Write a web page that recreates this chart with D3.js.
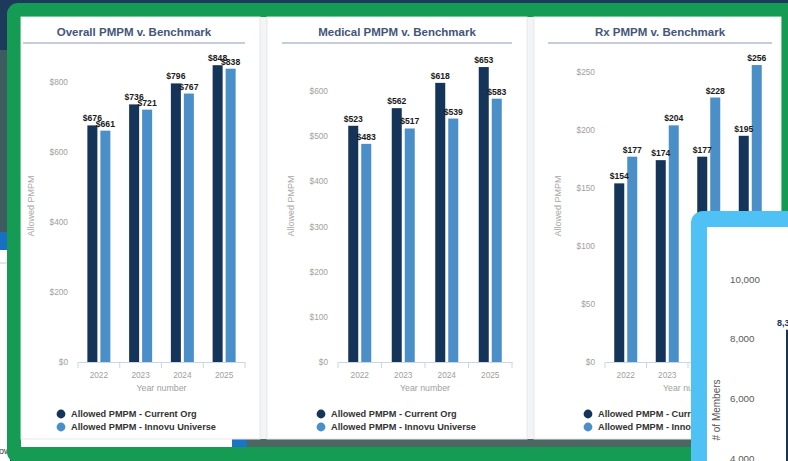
<!DOCTYPE html>
<html>
<head>
<meta charset="utf-8">
<script src="https://cdn.jsdelivr.net/npm/d3@7"></script>
<style>
  html, body { margin: 0; padding: 0; background: #1d3a5c; overflow: hidden; }
  svg { display: block; font-family: "Liberation Sans", Arial, Helvetica, sans-serif; }
</style>
</head>
<body>
<div id="chart"></div>
<script>
// data
const years = ["2022", "2023", "2024", "2025"];
const seriesNames = ["Allowed PMPM - Current Org", "Allowed PMPM - Innovu Universe"];

const overallOrg = [676, 736, 796, 848];
const overallUniverse = [661, 721, 767, 838];
const overallTicks = [0, 200, 400, 600, 800];

const medicalOrg = [523, 562, 618, 653];
const medicalUniverse = [483, 517, 539, 583];
const medicalTicks = [0, 100, 200, 300, 400, 500, 600];

const rxOrg = [154, 174, 177, 195];
const rxUniverse = [177, 204, 228, 256];
const rxTicks = [0, 50, 100, 150, 200, 250];

// partly hidden card on the right
const memberTicks = [4000, 6000, 8000, 10000];
const memberCounts = [8300];

const W = 788, H = 461;
const colors = ["#15345a", "#4a8fc8"];

const svg = d3.select("#chart").append("svg")
    .attr("width", W)
    .attr("height", H);

// --- background bits of the page behind the frame ---
svg.append("rect").attr("width", W).attr("height", H).attr("fill", "#1d3a5c");
svg.append("rect").attr("x", 0).attr("y", 50).attr("width", 10).attr("height", 182).attr("fill", "#3e5b5f");
svg.append("rect").attr("x", 0).attr("y", 232).attr("width", 10).attr("height", 18).attr("fill", "#1b6fc2");
svg.append("rect").attr("x", 0).attr("y", 250).attr("width", 10).attr("height", 211).attr("fill", "#ffffff");
svg.append("line").attr("x1", 0).attr("x2", 10).attr("y1", 263).attr("y2", 263).attr("stroke", "#c9ccd4");
svg.append("text").attr("x", -1).attr("y", 454).attr("font-size", 9).attr("fill", "#333").text("ow");

// green frame
svg.append("rect")
    .attr("x", 7).attr("y", 3)
    .attr("width", 800).attr("height", 460)
    .attr("rx", 11)
    .attr("fill", "#169b55");

// what shows inside the frame
svg.append("rect").attr("x", 21).attr("y", 17).attr("width", 760).attr("height", 430).attr("fill", "#f3f4f6");
svg.append("rect").attr("x", 21).attr("y", 439).attr("width", 211).attr("height", 8).attr("fill", "#ffffff");
svg.append("rect").attr("x", 232).attr("y", 439).attr("width", 15).attr("height", 8).attr("fill", "#1b74c8");
svg.append("rect").attr("x", 247).attr("y", 439).attr("width", 534).attr("height", 8).attr("fill", "#4b6763");

const panels = [
    { title: "Overall PMPM v. Benchmark", org: overallOrg, uni: overallUniverse, ticks: overallTicks,
      px: 21, pw: 239, x0: 78, x1: 245, line: [23, 245] },
    { title: "Medical PMPM v. Benchmark", org: medicalOrg, uni: medicalUniverse, ticks: medicalTicks,
      px: 267, pw: 260, x0: 338, x1: 512, line: [282, 512] },
    { title: "Rx PMPM v. Benchmark", org: rxOrg, uni: rxUniverse, ticks: rxTicks,
      px: 534, pw: 247, x0: 605, x1: 771, line: [548, 772] }
];

const yBase = 362;
const yTop = [82, 91, 72];

panels.forEach((p, i) => drawPanel(p, yTop[i]));

function drawPanel(p, top) {
    const g = svg.append("g");

    // card
    g.append("rect")
        .attr("x", p.px).attr("y", 17)
        .attr("width", p.pw).attr("height", 422)
        .attr("fill", "#ffffff")
        .attr("stroke", "#e6e7ea");

    // title + rule
    const mid = (p.line[0] + p.line[1]) / 2;
    g.append("text")
        .attr("x", mid).attr("y", 36)
        .attr("text-anchor", "middle")
        .attr("font-size", 11.5)
        .attr("font-weight", "bold")
        .attr("fill", "#44557a")
        .text(p.title);
    g.append("line")
        .attr("x1", p.line[0]).attr("x2", p.line[1])
        .attr("y1", 43).attr("y2", 43)
        .attr("stroke", "#c6ccd8").attr("stroke-width", 2);

    const x = d3.scaleBand().domain(years).range([p.x0, p.x1]);
    const bw = x.bandwidth();
    const x1 = d3.scaleBand().domain(seriesNames)
        .range([bw / 2 - 11.5, bw / 2 + 11.5])
        .paddingInner(0.23);
    const y = d3.scaleLinear()
        .domain([0, d3.max(p.ticks)])
        .range([yBase, top]);

    // y tick labels (no axis line)
    const yAxis = d3.axisLeft(y).tickValues(p.ticks).tickSize(0).tickPadding(10).tickFormat(d => "$" + d);
    const ya = g.append("g").attr("transform", `translate(${p.x0},0)`).call(yAxis);
    ya.select(".domain").remove();
    ya.selectAll("text").attr("font-size", 8.3).attr("fill", "#a0a0a0").attr("font-family", null);

    g.append("text")
        .attr("transform", `translate(${p.x0 - 44},206) rotate(-90)`)
        .attr("text-anchor", "middle")
        .attr("font-size", 9)
        .attr("fill", "#a8a8a8")
        .text("Allowed PMPM");

    // bars
    const rows = years.map((yr, j) => ({ year: yr, vals: [p.org[j], p.uni[j]] }));
    const grp = g.selectAll(".yr").data(rows).enter().append("g")
        .attr("transform", d => `translate(${x(d.year)},0)`);

    grp.selectAll("rect")
        .data(d => d.vals.map((v, k) => ({ key: seriesNames[k], v: v, k: k })))
        .enter().append("rect")
        .attr("x", d => x1(d.key))
        .attr("y", d => y(d.v))
        .attr("width", x1.bandwidth())
        .attr("height", d => yBase - y(d.v))
        .attr("fill", d => colors[d.k]);

    grp.selectAll("text.val")
        .data(d => d.vals.map((v, k) => ({ key: seriesNames[k], v: v, k: k })))
        .enter().append("text")
        .attr("class", "val")
        .attr("x", d => x1(d.key) + x1.bandwidth() / 2)
        .attr("y", d => y(d.v) - 4)
        .attr("text-anchor", "middle")
        .attr("font-size", 8.6)
        .attr("font-weight", "bold")
        .attr("fill", "#1a1a1a")
        .text(d => "$" + d.v);

    // x axis
    const xAxis = d3.axisBottom(x).tickSize(0).tickPadding(10);
    const xa = g.append("g").attr("transform", `translate(0,${yBase})`).call(xAxis);
    xa.select(".domain").attr("stroke", "#c9d5ea");
    xa.selectAll("text").attr("font-size", 8.3).attr("fill", "#a0a0a0").attr("font-family", null);
    g.selectAll(".sep")
        .data(years.map(d => x(d)).concat([p.x1]))
        .enter().append("line")
        .attr("x1", d => d).attr("x2", d => d)
        .attr("y1", yBase).attr("y2", yBase + 6)
        .attr("stroke", "#c9d5ea");

    g.append("text")
        .attr("x", (p.x0 + p.x1) / 2).attr("y", 391)
        .attr("text-anchor", "middle")
        .attr("font-size", 8.8)
        .attr("fill", "#a0a0a0")
        .text("Year number");

    // legend
    const lg = g.selectAll(".lg").data(seriesNames).enter().append("g")
        .attr("transform", (d, k) => `translate(${p.x0 - 17},${414 + k * 13})`);
    lg.append("circle").attr("r", 4.4).attr("fill", (d, k) => colors[k]);
    lg.append("text")
        .attr("x", 10).attr("y", 3.2)
        .attr("font-size", 9.2)
        .attr("font-weight", "bold")
        .attr("fill", "#333")
        .text(d => d);
}

// --- blue card overlapping on the right ---
const card = svg.append("g");
card.append("rect")
    .attr("x", 691).attr("y", 211)
    .attr("width", 120).attr("height", 270)
    .attr("rx", 12)
    .attr("fill", "#4fc1f5");
card.append("rect")
    .attr("x", 707).attr("y", 227)
    .attr("width", 100).attr("height", 250)
    .attr("fill", "#ffffff");

const ym = d3.scaleLinear().domain([4000, 10000]).range([458, 279]);
card.selectAll(".mt").data(memberTicks).enter().append("text")
    .attr("x", 730).attr("y", d => ym(d) + 3.5)
    .attr("font-size", 9.8)
    .attr("fill", "#5a5a5a")
    .text(d => d3.format(",")(d));
card.append("text")
    .attr("transform", "translate(720,410) rotate(-90)")
    .attr("text-anchor", "middle")
    .attr("font-size", 10)
    .attr("fill", "#555")
    .text("# of Members");
card.selectAll(".mb").data(memberCounts).enter().append("rect")
    .attr("x", 786).attr("y", d => ym(d))
    .attr("width", 12).attr("height", d => 470 - ym(d))
    .attr("fill", "#15345a");
card.selectAll(".ml").data(memberCounts).enter().append("text")
    .attr("x", 777).attr("y", d => ym(d) - 4)
    .attr("font-size", 9)
    .attr("font-weight", "bold")
    .attr("fill", "#15345a")
    .text(d => d3.format(",")(d));
</script>
</body>
</html>
